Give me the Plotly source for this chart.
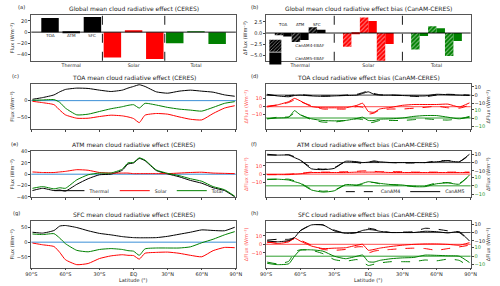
import plotly.graph_objects as go

W, H = 500, 286
BLACK, RED, GREEN = "#000000", "#ff0000", "#008000"
FONT = "DejaVu Sans"

# ---------------- data ----------------
groups = ["Thermal", "Solar", "Total"]
levels = ["TOA", "ATM", "SFC"]
lat_ticks = [-90, -60, -30, 0, 30, 60, 90]
lat_labels = ["90°S", "60°S", "30°S", "EQ", "30°N", "60°N", "90°N"]

# (a) global mean CRE (CERES)
mean_toa = [25, -45, -20]
mean_atm = [-1.5, 2.5, 1.0]
mean_sfc = [27, -48, -21]

# (b) global mean bias
bias4_toa = [-0.5, -3.1, -3.7]
bias5_toa = [-0.8, -0.1, -0.7]
bias4_atm = [-2.0, 3.5, 1.55]
bias5_atm = [-1.6, 2.7, 1.1]
bias4_sfc = [1.3, -6.5, -5.2]
bias5_sfc = [0.75, -2.5, -1.8]

lat = [-89, -80, -70, -65, -60, -50, -40, -30, -20, -10, -5, 0, 5, 10, 20, 30, 40, 50, 60, 70, 80, 89]

# (c) TOA
toa_lw = [4, 9, 17, 26, 33, 37, 36, 31, 27, 31, 37, 42, 47, 42, 26, 22, 28, 31, 28, 25, 17, 13]
toa_sw = [-2, -6, -12, -28, -42, -52, -52, -47, -43, -45, -48, -53, -65, -43, -38, -40, -48, -55, -57, -38, -22, -15]
toa_net = [1, 2, 3, -5, -22, -42, -40, -32, -24, -18, -14, -12, -22, -8, -13, -20, -25, -28, -31, -20, -8, -3]
# (e) ATM
atm_lw = [-29, -25, -29, -28, -30, -18, -8, -1, 0, 7, 18, 20, 28, 24, 6.5, 0.5, -4.5, -11, -16, -24, -29, -40]
atm_sw = [4, 3, 3, 4, 5, 8, 7, 3, 2, 2, 2, 1, 1, 1, 1, 1, 2, 3, 3.5, 2, 1.5, 1]
atm_net = [-25, -22, -26, -24, -25, -10, -1, 2, 2, 9, 20, 21, 29, 25, 7.5, 1.5, -2.5, -8, -12.5, -22, -27.5, -39]
# (g) SFC
sfc_lw = [34, 31, 40, 55, 57, 50, 39, 30, 25, 19, 17, 15.5, 15, 15, 15.5, 20, 27, 34, 42, 40, 39, 51]
sfc_sw = [-3, -9, -15, -35, -60, -77, -73, -56, -47, -43, -45, -46, -58, -38, -35, -34, -38, -45, -50, -29, -18, -19]
sfc_net = [28, 26, 29, 14, -5, -28, -33, -25, -22, -25, -29, -31, -45, -23, -20, -20, -20, -16, -2, 10, 25, 36]

# (d) TOA bias
d_lw5 = [1, -1, -2, -0.5, 0, -1, -1.5, -1, -0.5, 0, 2, 4, 1, 0, 0, -0.5, -1, -1, 1, 0.5, 0, -0.5]
d_lw4 = [0, -0.5, -0.5, 0, 0.5, -0.5, -1, -1, 0, 1, 3, 5, 2, 0.5, 0, -0.5, -1.5, -2, 0, 1, 0.5, 0]
d_sw5 = [-0.5, 2, 6, 10, 7, 0, -1.5, -1.5, -1.5, 1.5, 4, -6, -7, -3, -1, 1.5, 2.5, 2.5, 2.5, 3, -0.5, 4.5]
d_sw4 = [0.5, 2, 5, 8, 6, 1, -3, -3, -3, 0, -1, -9, -8, -4, -3, -3, -2, -1, 0.5, -1.5, -2, 1.5]
d_net5 = [-1, 0, 1, 9, 4, -1, -3, -3.5, -3, -0.5, 1, -3, -3, -1.5, -1, 0, 2, 3, 3, 1, -1, 2]
d_net4 = [-1, 1, 1.5, 6, 4, -2, -5, -5, -3, -1, -2, -6, -5, -3, -3, -3, -2, -1, -2, -2.5, -1, 1]
# (f) ATM bias
f_lw5 = [10, 9, 9, 6, 3, -7.5, -8.5, -7, 1.5, 1, 0, 0.5, 2, 1, 0, 0, 0, 0, 1, 2, 1, 10]
f_lw4 = [9, 9, 9.5, 7, 3, -6, -8, -6, 1, 0, -1, 0, 1, 0, 0, -0.5, -0.5, 0, 2, 2.5, 1, 9]
f_sw5 = [-0.5, -0.5, -0.5, 0, 0.5, 2, 2, 2, 2, 2.5, 2.5, 2.5, 2.5, 2.5, 2, 2, 2, 2, 2, 2, 2, 2]
f_sw4 = [-0.5, -0.5, 0, 0.5, 1, 2.5, 2.5, 2.5, 3, 3.5, 4, 4, 3.5, 3, 3, 3, 2.5, 2.5, 2.5, 2.5, 2.5, 2.5]
f_net5 = [8, 8, 7, 5, 3, -5, -7.5, -6, 1.5, 1, 3, 5, 4, 3, 1.5, 1, -1, -1, 2.5, 3.5, 2, 13]
f_net4 = [7.5, 8, 8, 6, 3.5, -4, -6.5, -5, 1, 0.5, 2, 4, 4, 2.5, 1.5, 0.5, -0.5, 0, 3.5, 4, 3, 12]
# (h) SFC bias
h_lw5 = [-10, -11, -9.5, -6, 2, 9, 9, 2, -1, 0, 2.5, 3.5, 3, 1.5, 0, 0, 0, 1.5, 1, -0.5, 1, -10]
h_lw4 = [-9, -8, -8, -6, 2, 9, 9, 3, -1, 0, 3.5, 5, 4, 2, 0, 0.5, 1, 5, 4, 2, 0, -10]
h_sw5 = [3, 1, 3, 7.5, 4, -2, -5, -4.5, -4, -1, 0, -7, -6, -4.5, -2.5, -1, 0, 0.5, 0.5, 0, -1, 2]
h_sw4 = [2, 3, 4, 6.5, 5, -1, -6, -7, -6, -3, -3, -10, -8, -7, -6, -5, -4.5, -5, -7, -5, -3, -1]
h_net5 = [-8.5, -10, -9, 0, 7, 7.5, 6, 0, -3, 0, 1.3, -6.5, -7, -5, -3, -2, -1.5, 1.3, 1, 0.5, 0, -7.5]
h_net4 = [-7, -9, -6, 5, 7.5, 7, 3, -4, -6, -4, -7, -11, -9.5, -8, -6.5, -6.5, -6.5, -4.5, -5.5, -3.5, -5, -13]

titles = [
    "Global mean cloud radiative effect (CERES)",
    "Global mean cloud radiative effect bias (CanAM-CERES)",
    "TOA mean cloud radiative effect (CERES)",
    "TOA cloud radiative effect bias (CanAM-CERES)",
    "ATM mean cloud radiative effect (CERES)",
    "ATM cloud radiative effect bias (CanAM-CERES)",
    "SFC mean cloud radiative effect (CERES)",
    "SFC cloud radiative effect bias (CanAM-CERES)",
]
letters = ["(a)", "(b)", "(c)", "(d)", "(e)", "(f)", "(g)", "(h)"]

# ---------------- layout helpers ----------------
def xd(a, b):
    return [a / W, b / W]

def yd(t, b):
    return [1 - b / H, 1 - t / H]

LEFT = xd(26, 236)
RIGHT = xd(267, 477)
ROW_PX = [(12.5, 58.8), (82.5, 128.3), (151, 197.5), (222, 269.3)]
ROWS = [yd(t, b) for t, b in ROW_PX]

TFS = 5.0
def tf(color="#222", size=TFS):
    return dict(family=FONT, size=size, color=color)

frame = dict(showline=True, linecolor="#555", linewidth=0.8, mirror=True,
             showgrid=False, zeroline=False)

fig = go.Figure()
cols = [BLACK, RED, GREEN]

# (a) bars
for vals, off in zip([mean_toa, mean_atm, mean_sfc], [-0.48, -0.14, 0.2]):
    fig.add_trace(go.Bar(x=groups, y=vals, offset=off, width=0.28,
                         marker=dict(color=cols, line=dict(width=0)),
                         xaxis="x", yaxis="y", showlegend=False))

# (b) bars
w6 = 0.124
series_b = [bias4_toa, bias5_toa, bias4_atm, bias5_atm, bias4_sfc, bias5_sfc]
for k, vals in enumerate(series_b):
    hatched = (k % 2 == 0)
    marker = dict(color=cols, line=dict(width=0))
    if hatched:
        marker["pattern"] = dict(shape="/", fillmode="overlay", fgcolor="white",
                                 size=3, solidity=0.35)
    fig.add_trace(go.Bar(x=groups, y=vals, offset=-3 * w6 + k * w6, width=w6,
                         marker=marker, xaxis="x2", yaxis="y2",
                         name="CanAM4-EBAF" if hatched else "CanAM5-EBAF",
                         showlegend=(k < 2), legend="legend" if k == 0 else "legend4"))

def mean_panel(xa, ya, lw, sw, net, legend=None):
    for vals, c, nm in [(lw, BLACK, "Thermal"), (sw, RED, "Solar"), (net, GREEN, "Total")]:
        fig.add_trace(go.Scatter(x=lat, y=vals, mode="lines", name=nm,
                                 line=dict(color=c, width=1, shape="spline", smoothing=0.5),
                                 xaxis=xa, yaxis=ya, showlegend=legend is not None,
                                 legend=legend or "legend"))

def bias_panel(xa, yr, yb, yg, lw4, lw5, sw4, sw5, net4, net5, legend=None):
    for dash, nm, (l, s, n) in [("dash", "CanAM4", (lw4, sw4, net4)),
                                ("solid", "CanAM5", (lw5, sw5, net5))]:
        for vals, c, ya, isblack in [(l, BLACK, yb, True), (s, RED, yr, False), (n, GREEN, yg, False)]:
            fig.add_trace(go.Scatter(x=lat, y=vals, mode="lines", name=nm,
                                     line=dict(color=c, width=1, dash=dash, shape="spline", smoothing=0.5),
                                     xaxis=xa, yaxis=ya,
                                     showlegend=(legend is not None and isblack),
                                     legend=legend or "legend"))

mean_panel("x3", "y3", toa_lw, toa_sw, toa_net)
bias_panel("x4", "y4", "y5", "y6", d_lw4, d_lw5, d_sw4, d_sw5, d_net4, d_net5)
mean_panel("x5", "y7", atm_lw, atm_sw, atm_net, legend="legend2")
bias_panel("x6", "y8", "y9", "y10", f_lw4, f_lw5, f_sw4, f_sw5, f_net4, f_net5, legend="legend3")
mean_panel("x7", "y11", sfc_lw, sfc_sw, sfc_net)
bias_panel("x8", "y12", "y13", "y14", h_lw4, h_lw5, h_sw4, h_sw5, h_net4, h_net5)

layout = dict(width=W, height=H, autosize=False, margin=dict(l=0, r=0, t=0, b=0),
              paper_bgcolor="white", plot_bgcolor="white", barmode="overlay",
              font=dict(family=FONT, size=TFS, color="#222"))

flux_title = dict(text="Flux (Wm⁻²)", font=tf(), standoff=2)
dflux_title = dict(text="ΔFlux (Wm⁻²)", font=tf(), standoff=2)

# (a)
layout["xaxis"] = dict(domain=LEFT, anchor="y", range=[-0.64, 2.64], ticks="",
                       tickfont=tf(size=4.7), **frame)
layout["yaxis"] = dict(domain=ROWS[0], anchor="x", range=[-51, 30], dtick=20,
                       ticks="outside", ticklen=2, tickwidth=0.6, tickfont=tf(),
                       title=flux_title, **frame)
# (b)
layout["xaxis2"] = dict(domain=RIGHT, anchor="y2", range=[-0.5, 2.5], ticks="",
                        tickfont=tf(size=4.7), **frame)
layout["yaxis2"] = dict(domain=ROWS[0], anchor="x2", range=[-6.26, 4.0], dtick=2.5,
                        tickformat=".1f", ticks="outside", ticklen=2, tickwidth=0.6,
                        tickfont=tf(), title=dflux_title, **frame)

def lat_axis(dom, anchor, bottom):
    return dict(domain=dom, anchor=anchor, range=[-90, 90], tickvals=lat_ticks,
                ticktext=lat_labels, showticklabels=bottom, ticks="outside", ticklen=2,
                tickwidth=0.6, tickfont=tf(), **frame)

mean_specs = [("xaxis3", "yaxis3", "x3", "y3", 1, [-84, 49], 50),
              ("xaxis5", "yaxis7", "x5", "y7", 2, [-40.5, 40.5], 20),
              ("xaxis7", "yaxis11", "x7", "y11", 3, [-87, 72], 50)]
for xk, yk, xn, yn, r, rng, dt in mean_specs:
    layout[xk] = lat_axis(LEFT, yn, r == 3)
    layout[yk] = dict(domain=ROWS[r], anchor=xn, range=rng, dtick=dt, ticks="outside",
                      ticklen=2, tickwidth=0.6, tickfont=tf(), title=flux_title, **frame)

bias_specs = [("xaxis4", "x4", ("yaxis4", "y4"), ("yaxis5", "y5"), ("yaxis6", "y6"), 1),
              ("xaxis6", "x6", ("yaxis8", "y8"), ("yaxis9", "y9"), ("yaxis10", "y10"), 2),
              ("xaxis8", "x8", ("yaxis12", "y12"), ("yaxis13", "y13"), ("yaxis14", "y14"), 3)]
RNG_R, RNG_B, RNG_G = [-27.5, 27.5], [-41.5, 13.5], [-13.5, 41.5]
for xk, xn, (rk, rn), (bk, bn), (gk, gn), r in bias_specs:
    layout[xk] = lat_axis(RIGHT, rn, r == 3)
    layout[rk] = dict(domain=ROWS[r], anchor=xn, range=RNG_R, tickvals=[-10, 0, 10],
                      ticks="outside", ticklen=2, tickwidth=0.6, tickfont=tf("#ff3333"),
                      title=dict(text="ΔFlux (Wm⁻²)", font=tf("#ff5555"), standoff=2), **frame)
    layout[bk] = dict(overlaying=rn, anchor=xn, side="right", range=RNG_B,
                      tickvals=[-10, 0, 10], ticks="outside", ticklen=2, tickwidth=0.6,
                      tickfont=tf("#222"), showgrid=False, zeroline=False, showline=False,
                      title=dict(text="ΔFlux (Wm⁻²)", font=tf("#333"), standoff=2))
    layout[gk] = dict(overlaying=rn, anchor=xn, side="right", range=RNG_G,
                      tickvals=[-10, 0, 10], ticks="outside", ticklen=2, tickwidth=0.6,
                      tickfont=tf("#2a9a2a"), showgrid=False, zeroline=False, showline=False)

# legends
leg_common = dict(bgcolor="rgba(0,0,0,0)", borderwidth=0, itemwidth=30)
layout["legend"] = dict(x=256 / W, y=1 - 43.5 / H, xanchor="left", yanchor="middle",
                        font=tf(size=4.1), **leg_common)
layout["legend4"] = dict(x=256 / W, y=1 - 56.5 / H, xanchor="left", yanchor="middle",
                         font=tf(size=4.1), **leg_common)
layout["legend2"] = dict(x=137 / W, y=1 - 191 / H, xanchor="center", yanchor="middle",
                         orientation="h", font=tf(size=4.7), **leg_common)
layout["legend3"] = dict(x=410 / W, y=1 - 192 / H, xanchor="center", yanchor="middle",
                         orientation="h", font=tf(size=4.7), **leg_common)

# shapes: zero lines and group separators
shapes = []
for xr, yr in [("x", "y"), ("x2", "y2")]:
    shapes.append(dict(type="line", xref=f"{xr} domain", yref=yr, x0=0, x1=1, y0=0, y1=0,
                       line=dict(color=BLACK, width=0.9), layer="above"))
    for b in [0.5, 1.5]:
        shapes.append(dict(type="line", xref=xr, yref=f"{yr} domain", x0=b, x1=b, y0=0, y1=1,
                           line=dict(color=BLACK, width=0.9, dash="dash")))
for xn, yn in [("x3", "y3"), ("x5", "y7"), ("x7", "y11")]:
    shapes.append(dict(type="line", xref=f"{xn} domain", yref=yn, x0=0, x1=1, y0=0, y1=0,
                       line=dict(color="#3b8fd6", width=1), layer="below"))
for xk, xn, (rk, rn), (bk, bn), (gk, gn), r in bias_specs:
    for yn, c, w in [(bn, "#333333", 0.9), (rn, "#ff7070", 1.3), (gn, "#2e9e2e", 1.0)]:
        shapes.append(dict(type="line", xref=f"{xn} domain", yref=yn, x0=0, x1=1, y0=0, y1=0,
                           line=dict(color=c, width=w), layer="below"))
layout["shapes"] = shapes

# annotations: titles, letters, level labels, x-axis titles
ann = []
for i, t in enumerate(titles):
    col, row = i % 2, i // 2
    dom = LEFT if col == 0 else RIGHT
    top = ROW_PX[row][0]
    ann.append(dict(text=t, xref="paper", yref="paper", x=(dom[0] + dom[1]) / 2,
                    y=1 - (top - 6.5) / H, xanchor="center", yanchor="middle",
                    showarrow=False, font=tf("#222", 6.0)))
    lx = [10, 4, 3, 5][row] if col == 0 else 249
    ann.append(dict(text=letters[i], xref="paper", yref="paper", x=lx / W,
                    y=1 - (top - 8) / H, xanchor="left", yanchor="middle",
                    showarrow=False, font=tf("#222", 5.2)))
for dom in (LEFT, RIGHT):
    ann.append(dict(text="Latitude (°)", xref="paper", yref="paper",
                    x=(dom[0] + dom[1]) / 2, y=1 - 281.5 / H, xanchor="center",
                    yanchor="middle", showarrow=False, font=tf()))
for lv, xo in zip(levels, [-0.34, 0.0, 0.34]):
    ann.append(dict(text=lv, xref="x", yref="y", x=xo, y=-6.5, showarrow=False,
                    font=tf("#222", 4.2)))
for lv, xo in zip(levels, [-0.248, 0.0, 0.248]):
    ann.append(dict(text=lv, xref="x2", yref="y2", x=xo, y=1.9, showarrow=False,
                    font=tf("#222", 4.0)))
layout["annotations"] = ann

fig.update_layout(**layout)
fig.write_html("out.html", config={"displayModeBar": False},
               post_script="document.body.style.margin='0px';")
